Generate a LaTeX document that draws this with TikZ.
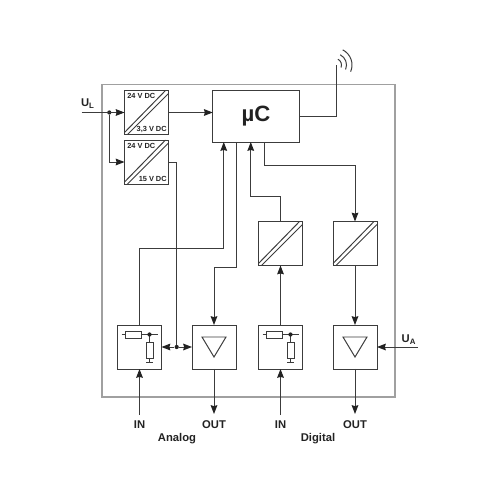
\documentclass[tikz,border=0pt]{standalone}
\usepackage{fontspec}
\setmainfont{Liberation Sans}
\usetikzlibrary{arrows.meta,calc}
\definecolor{FrameGray}{HTML}{A0A0A0}
\definecolor{WireGray}{HTML}{3C3C3C}
\definecolor{LabelGray}{HTML}{222222}
\tikzset{
  wire/.style={WireGray,line width=0.56pt},
  sig/.style={wire,-{Stealth[length=5pt,width=3.8pt,inset=0.5pt,color=LabelGray]}},
  blockbox/.style={draw=WireGray,line width=0.56pt,minimum width=0.88cm,minimum height=0.88cm,inner sep=0pt,outer sep=0pt},
  tinylabel/.style={inner sep=0pt,text=LabelGray,font=\fontsize{4.2}{5}\selectfont\bfseries},
  biglabel/.style={inner sep=0pt,text=LabelGray,font=\fontsize{6.4}{7}\selectfont\bfseries},
  junction/.style={circle,fill=LabelGray,inner sep=0pt,minimum size=2.4pt}
}
\begin{document}
\begin{tikzpicture}[x=0.02cm,y=-0.02cm]
\useasboundingbox (0,0) rectangle (500,500);
\draw[FrameGray,line width=0.85pt] (102,84.5) rectangle (395,397);
\node[blockbox] (convA) at (146.5,112.5) {};
\node[blockbox] (convB) at (146.5,162) {};
\node[blockbox] (convC) at (280.5,243.5) {};
\node[blockbox] (convD) at (355,243.5) {};
\node[blockbox,minimum width=1.73cm,minimum height=1.03cm,font=\fontsize{12.6}{14}\selectfont\bfseries,text=LabelGray] (uc) at (256,116.3) {µC};
\node[blockbox] (inA) at (139.5,347) {};
\node[blockbox] (outA) at (214,347) {};
\node[blockbox] (inD) at (280.5,347) {};
\node[blockbox] (outD) at (355,347) {};
% double stripes of the converters
\foreach \c in {convA,convB,convC,convD}{
  \draw[wire] ($(\c.south west)+(0,-2)$) -- ($(\c.north east)+(-3,0)$);
  \draw[wire] ($(\c.south west)+(3,0)$) -- ($(\c.north east)+(0,3)$);
}
\node[tinylabel,anchor=north west] (aTop) at (127,93) {24 V DC};
\node[tinylabel,anchor=south east] (aBot) at (167,133) {3,3 V DC};
\node[tinylabel,anchor=north west] (bTop) at (127,142.5) {24 V DC};
\node[tinylabel,anchor=south east] (bBot) at (167,182) {15 V DC};
% resistor networks and amplifiers
\foreach \c in {inA,inD}{
  \draw[wire] ($(\c.center)+(-18,-12.5)$) -- ($(\c.center)+(18,-12.5)$);
  \draw[wire,fill=white] ($(\c.center)+(-14,-16)$) rectangle ($(\c.center)+(2,-9)$);
  \draw[wire] ($(\c.center)+(10,-12.5)$) -- ($(\c.center)+(10,15.5)$);
  \draw[wire,fill=white] ($(\c.center)+(6.5,-5)$) rectangle ($(\c.center)+(13.5,11)$);
  \draw[wire] ($(\c.center)+(6.5,15.5)$) -- ($(\c.center)+(13.5,15.5)$);
  \node[junction] at ($(\c.center)+(10,-12.5)$) {};
}
\foreach \c in {outA,outD}{
  \draw[wire] ($(\c.center)+(-12,-10)$) -- ($(\c.center)+(12,-10)$) -- ($(\c.center)+(0,10)$) -- cycle;
}
% supply
\coordinate (ulIn) at (81.7,112.5);
\node[junction] (ulDot) at (109.3,112.5) {};
\draw[sig] (ulIn) -- (convA.west);
\draw[sig] (ulDot) |- (convB.west);
\draw[sig] (convA.east) -- (convA.east -| uc.west);
\node[junction] (busDot) at (176.7,347) {};
\draw[wire] (convB.east) -| (busDot);
\draw[sig] (busDot) -- (inA.east);
\draw[sig] (busDot) -- (outA.west);
% microcontroller links
\draw[sig] (inA.north) -- ++(0,-77) -| ($(uc.south west)+(11,0)$);
\draw[sig] ($(uc.south west)+(24,0)$) -- ++(0,125) -| (outA.north);
\draw[sig] (convC.north) -- ++(0,-25.5) -| ($(uc.south west)+(38,0)$);
\draw[sig] ($(uc.south west)+(51.5,0)$) -- ++(0,23) -| (convD.north);
\draw[sig] (inD.north) -- (convC.south);
\draw[sig] (convD.south) -- (outD.north);
% antenna
\coordinate (antTip) at (336,65);
\draw[wire] (uc.east) -| (antTip);
\foreach \r in {6.5,11.5,17}{
  \draw[wire] ($(335,65)+(-63:\r)$) arc[start angle=-63,end angle=23,radius=\r];
}
% inputs and outputs
\coordinate (inAfree) at (139.5,415);
\coordinate (outAfree) at (214,414);
\coordinate (inDfree) at (280.5,415);
\coordinate (outDfree) at (355,414);
\coordinate (uaIn) at (418,347);
\draw[sig] (inAfree) -- (inA.south);
\draw[sig] (outA.south) -- (outAfree);
\draw[sig] (inDfree) -- (inD.south);
\draw[sig] (outD.south) -- (outDfree);
\draw[sig] (uaIn) -- (outD.east);
\node[biglabel] (ulLabel) at (88,104) {U\textsubscript{L}};
\node[biglabel] (uaLabel) at (409,340) {U\textsubscript{A}};
\node[biglabel] (inAtext) at (139.5,424.5) {IN};
\node[biglabel] (outAtext) at (214,424.5) {OUT};
\node[biglabel] (inDtext) at (280.5,424.5) {IN};
\node[biglabel] (outDtext) at (355,424.5) {OUT};
\node[biglabel] (analogText) at (177,438.5) {Analog};
\node[biglabel] (digitalText) at (318,438.5) {Digital};
\end{tikzpicture}
\end{document}
